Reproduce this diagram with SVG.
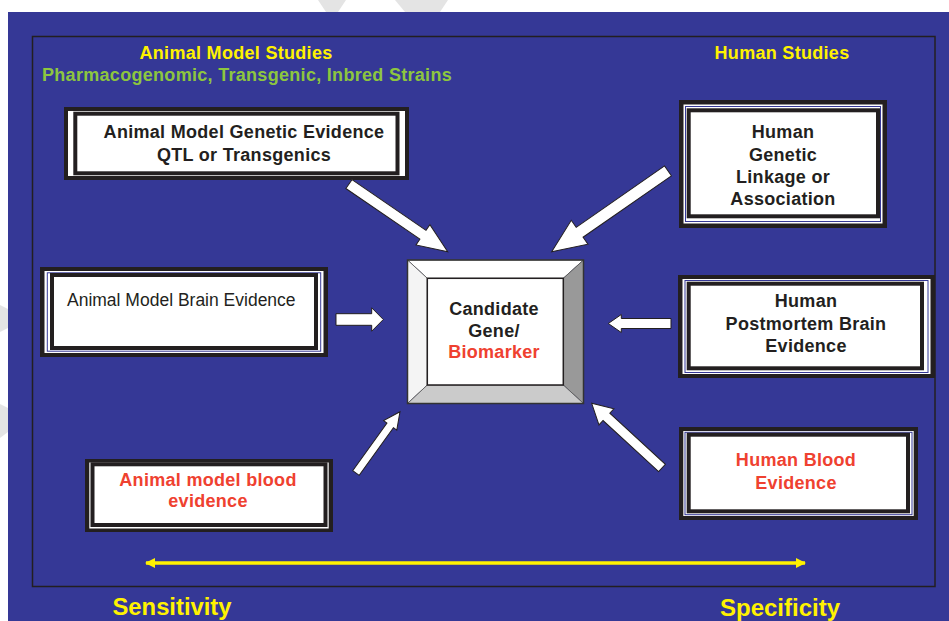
<svg xmlns="http://www.w3.org/2000/svg" width="949" height="621" viewBox="0 0 949 621">
<style>
.t{font-family:"Liberation Sans",Arial,sans-serif;font-weight:bold;font-size:18px;letter-spacing:0.3px;text-anchor:middle;fill:#231f20}
.r{fill:#ef4130}
.y{fill:#fff200}
.g{fill:#8dc63f}
.ob{fill:#231f20}
.wb{fill:#ffffff}
.bl{fill:none;stroke:#353896;stroke-width:1}
.in{fill:#ffffff;stroke:#231f20;stroke-width:4}
.arr{fill:#ffffff;stroke:#231f20;stroke-width:1;stroke-linejoin:miter}
.wm{fill:#e4e4e4}
</style>
<defs>
<marker id="yh" viewBox="0 0 10 10" refX="9" refY="5" markerWidth="10" markerHeight="10" markerUnits="userSpaceOnUse" orient="auto-start-reverse">
<path d="M0,0 L10,5 L0,10 Z" fill="#fff200"/>
</marker>
</defs>
<rect x="0" y="0" width="949" height="621" fill="#ffffff"/>
<polygon class="wm" points="318,0 346,0 338,12 326,12"/>
<polygon class="wm" points="395,0 448,0 440,12 405,12"/>
<polygon class="wm" points="0,305 8,309 8,328 0,332"/>
<polygon class="wm" points="0,404 8,408 8,432 0,438"/>
<rect x="8" y="12" width="941" height="609" fill="#353896"/>
<rect x="32.5" y="36.5" width="902.5" height="550" fill="none" stroke="#231f20" stroke-width="1.5"/>

<g id="headers">
<text class="t y" x="236" y="59">Animal Model Studies</text>
<text class="t g" x="42" y="81" style="text-anchor:start">Pharmacogenomic, Transgenic, Inbred Strains</text>
<text class="t y" x="782" y="59">Human Studies</text>
</g>

<g id="animal-genetic">
<rect class="ob" x="64" y="107" width="345" height="73"/>
<rect class="wb" x="68" y="111" width="337" height="65"/>
<rect class="in" x="75.3" y="113.7" width="322.2" height="59.6"/>
<text class="t" x="244" y="138">Animal Model Genetic Evidence</text>
<text class="t" x="244" y="161">QTL or Transgenics</text>
</g>

<g id="human-genetic">
<rect class="ob" x="679" y="100" width="208" height="128"/>
<rect class="wb" x="683.5" y="104.5" width="199" height="119"/>
<rect class="bl" x="685.5" y="106.5" width="195" height="115"/>
<rect class="in" x="688.7" y="110.3" width="189.3" height="106"/>
<text class="t" x="783" y="138">Human</text>
<text class="t" x="783" y="161">Genetic</text>
<text class="t" x="783" y="183">Linkage or</text>
<text class="t" x="783" y="205">Association</text>
</g>

<g id="animal-brain">
<rect class="ob" x="40" y="267" width="288" height="90"/>
<rect class="wb" x="44.5" y="271" width="279" height="82"/>
<rect class="bl" x="47.3" y="272.8" width="273.4" height="78.4"/>
<rect class="in" x="52" y="275" width="264" height="73"/>
<text x="67" y="305.5" style="font-family:'Liberation Sans',Arial,sans-serif;font-size:17.5px;fill:#231f20">Animal Model Brain Evidence</text>
</g>

<g id="human-brain">
<rect class="ob" x="678" y="275" width="257" height="103"/>
<rect class="wb" x="682.5" y="279" width="248" height="95"/>
<rect class="bl" x="685" y="280.5" width="243" height="92"/>
<rect class="in" x="688.7" y="283.7" width="233.3" height="84.6"/>
<text class="t" x="806" y="307">Human</text>
<text class="t" x="806" y="330">Postmortem Brain</text>
<text class="t" x="806" y="352">Evidence</text>
</g>

<g id="animal-blood">
<rect class="ob" x="85" y="459" width="248" height="73"/>
<rect class="wb" x="89.3" y="462.5" width="239.4" height="66"/>
<rect class="in" x="92.5" y="464.3" width="233" height="60.7"/>
<text class="t r" x="208" y="486">Animal model blood</text>
<text class="t r" x="208" y="507">evidence</text>
</g>

<g id="human-blood">
<rect class="ob" x="679" y="427" width="239" height="93"/>
<rect class="wb" x="683.3" y="431" width="230.4" height="85"/>
<rect class="bl" x="685" y="432.3" width="227" height="82.4"/>
<rect class="in" x="688.7" y="434.7" width="219.3" height="76.6"/>
<text class="t r" x="796" y="466">Human Blood</text>
<text class="t r" x="796" y="488.5">Evidence</text>
</g>

<g id="candidate">
<polygon points="407.5,260 583.5,260 563.3,278.3 427.3,278.3" fill="#ffffff" stroke="#555" stroke-width="0.8"/>
<polygon points="407.5,260 427.3,278.3 427.3,385 407.5,403.5" fill="#f4f4f4" stroke="#555" stroke-width="0.8"/>
<polygon points="583.5,260 583.5,403.5 563.3,385 563.3,278.3" fill="#999999" stroke="#555" stroke-width="0.8"/>
<polygon points="407.5,403.5 427.3,385 563.3,385 583.5,403.5" fill="#cbcbcb" stroke="#555" stroke-width="0.8"/>
<rect x="427.3" y="278.3" width="136" height="106.7" fill="#ffffff" stroke="#231f20" stroke-width="1.5"/>
<rect x="407.5" y="260" width="176" height="143.5" fill="none" stroke="#333" stroke-width="1.5"/>
<text class="t" x="494" y="314.5">Candidate</text>
<text class="t" x="494" y="336.7">Gene/</text>
<text class="t r" x="494" y="358.3">Biomarker</text>
</g>

<g id="connectors">
<polygon class="arr" transform="translate(447.7,251.7) rotate(34.4)" points="-119.7,-5.4 -30,-5.4 -30,-12.3 0,0 -30,12.3 -30,5.4 -119.7,5.4"/>
<polygon class="arr" transform="translate(551.7,251.7) rotate(145.2)" points="-141.6,-6 -34,-6 -34,-14.6 0,0 -34,14.6 -34,6 -141.6,6"/>
<polygon class="arr" transform="translate(383.3,319.5) rotate(0)" points="-47.3,-5.8 -11.6,-5.8 -11.6,-11.7 0,0 -11.6,11.7 -11.6,5.8 -47.3,5.8"/>
<polygon class="arr" transform="translate(608.3,323.5) rotate(180)" points="-62.7,-5 -13,-5 -13,-9 0,0 -13,9 -13,5 -62.7,5"/>
<polygon class="arr" transform="translate(400,411.7) rotate(-54.3)" points="-75.5,-4 -16.8,-4 -16.8,-8.1 0,0 -16.8,8.1 -16.8,4 -75.5,4"/>
<polygon class="arr" transform="translate(591.7,403.3) rotate(-137.4)" points="-95.5,-5 -20,-5 -20,-11 0,0 -20,11 -20,5 -95.5,5"/>
<line x1="146" y1="563" x2="805" y2="563" stroke="#fff200" stroke-width="3.5" marker-start="url(#yh)" marker-end="url(#yh)"/>
</g>

<g id="axis-labels">
<text class="t y" x="172" y="615" textLength="119" lengthAdjust="spacingAndGlyphs" style="font-size:23px;letter-spacing:0">Sensitivity</text>
<text class="t y" x="780" y="616" textLength="120" lengthAdjust="spacingAndGlyphs" style="font-size:23px;letter-spacing:0">Specificity</text>
</g>
</svg>
